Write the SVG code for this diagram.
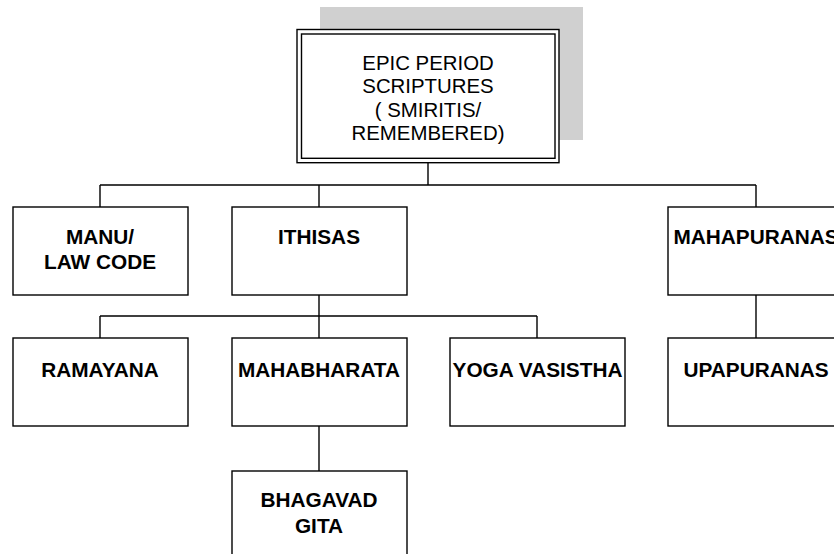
<svg xmlns="http://www.w3.org/2000/svg" width="834" height="554" viewBox="0 0 834 554">
  <style>
    .box { fill: #fff; stroke: #000; stroke-width: 1.4; }
    .line { fill: none; stroke: #000; stroke-width: 1.4; }
    .lbl { font-family: "Liberation Sans", Arial, sans-serif; font-size: 20.8px; font-weight: bold; text-anchor: middle; fill: #000; }
    .title { font-family: "Liberation Sans", Arial, sans-serif; font-size: 20.4px; text-anchor: middle; fill: #000; }
  </style>
  <rect width="834" height="554" fill="#fff"/>

  <g id="connectors">
    <path class="line" d="M428 163 V185 M100 185 H756 M100 185 V207 M319 185 V207 M756 185 V207"/>
    <path class="line" d="M319 295 V316 M100 316 H537 M100 316 V338 M319 316 V338 M537 316 V338"/>
    <path class="line" d="M756 295 V338"/>
    <path class="line" d="M319 426 V471"/>
  </g>

  <g id="epic-period">
    <rect x="320" y="7" width="263" height="133" fill="#d0d0d0"/>
    <rect class="box" x="297" y="29.5" width="262" height="133.2"/>
    <rect class="box" x="301.5" y="34" width="253.5" height="124.3"/>
    <text class="title" x="428" y="69.5">EPIC PERIOD</text>
    <text class="title" x="428" y="93">SCRIPTURES</text>
    <text class="title" x="428" y="116.5">( SMIRITIS/</text>
    <text class="title" x="428" y="140">REMEMBERED)</text>
  </g>

  <g id="manu">
    <rect class="box" x="13" y="207" width="175" height="88"/>
    <text class="lbl" x="100" y="243.5">MANU/</text>
    <text class="lbl" x="100" y="268.5">LAW CODE</text>
  </g>

  <g id="ithisas">
    <rect class="box" x="232" y="207" width="175" height="88"/>
    <text class="lbl" x="319" y="243.5">ITHISAS</text>
  </g>

  <g id="mahapuranas">
    <rect class="box" x="668" y="207" width="175" height="88"/>
    <text class="lbl" x="756" y="243.5">MAHAPURANAS</text>
  </g>

  <g id="ramayana">
    <rect class="box" x="13" y="338" width="175" height="88"/>
    <text class="lbl" x="100" y="377">RAMAYANA</text>
  </g>

  <g id="mahabharata">
    <rect class="box" x="232" y="338" width="175" height="88"/>
    <text class="lbl" x="319" y="377">MAHABHARATA</text>
  </g>

  <g id="yoga-vasistha">
    <rect class="box" x="450" y="338" width="175" height="88"/>
    <text class="lbl" x="537.5" y="377">YOGA VASISTHA</text>
  </g>

  <g id="upapuranas">
    <rect class="box" x="668" y="338" width="175" height="88"/>
    <text class="lbl" x="756" y="377">UPAPURANAS</text>
  </g>

  <g id="bhagavad-gita">
    <rect class="box" x="232" y="471" width="175" height="100"/>
    <text class="lbl" x="319" y="507">BHAGAVAD</text>
    <text class="lbl" x="319" y="532.5">GITA</text>
  </g>
</svg>
